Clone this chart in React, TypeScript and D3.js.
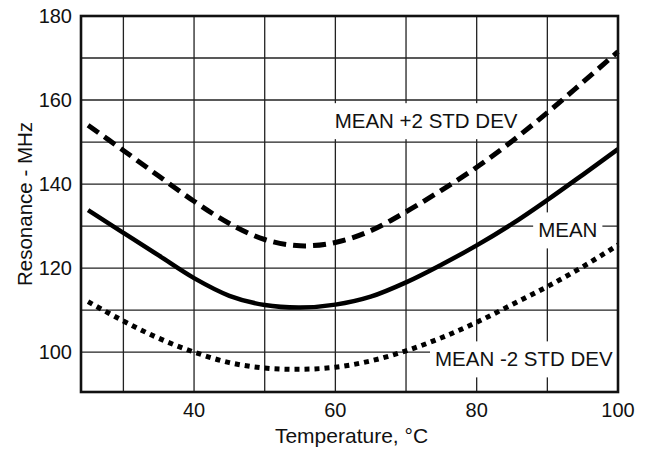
import React from "react"
import { scaleLinear, line, curveCatmullRom } from "d3"

// temperatures (°C) where curves were read
const temps = [25, 30, 35, 40, 45, 50, 55, 60, 65, 70, 75, 80, 85, 90, 95, 100]
const meanVals = [133.8, 128.4, 123, 117.6, 113.4, 111.2, 110.6, 111.3, 113.2, 116.6, 120.8, 125.4, 130.5, 136.2, 142.2, 148.3]
const plus2Vals = [154, 148, 141.9, 135.9, 130.6, 126.8, 125.3, 126.1, 128.9, 133.4, 138.5, 144, 150.2, 157, 164.2, 171.5]
const minus2Vals = [112, 107.4, 103.3, 100, 97.5, 96.2, 95.9, 96.4, 97.9, 100.3, 103.4, 107.1, 111.3, 115.6, 120.3, 125.5]

const xTicks = [40, 60, 80, 100]
const yTicks = [100, 120, 140, 160, 180]
const xGrid = [30, 40, 50, 60, 70, 80, 90]
const yGrid = [100, 110, 120, 130, 140, 150, 160, 170]

const labelTexts = ["MEAN +2 STD DEV", "MEAN", "MEAN -2 STD DEV"]
const labelX = [59.9, 88.7, 74.1]
const labelY = [153.3, 127.3, 96.6]

const FONT = "'Liberation Sans', Arial, Helvetica, sans-serif"

export default function App() {
  const margin = { top: 16, right: 37, bottom: 61, left: 81 }
  const W = 655
  const H = 453
  const width = W - margin.left - margin.right
  const height = H - margin.top - margin.bottom

  const x = scaleLinear().domain([24, 100]).range([0, width])
  const y = scaleLinear().domain([90.5, 180]).range([height, 0])

  const mk = (vals: number[]) =>
    line<number>()
      .x((d, i) => x(temps[i]))
      .y(d => y(d))
      .curve(curveCatmullRom.alpha(0.5))(vals) || ""

  // rough text width for Arial metrics, used for white boxes behind labels
  const charW: { [k: string]: number } = {
    M: 0.833, E: 0.667, A: 0.667, N: 0.722, " ": 0.278, "+": 0.584, "-": 0.333,
    "2": 0.556, S: 0.667, T: 0.611, D: 0.722, V: 0.667
  }
  const textWidth = (s: string, fs: number) =>
    s.split("").reduce((a, c) => a + (charW[c] || 0.6), 0) * fs

  return (
    <svg
      width={W}
      height={H}
      style={{ position: "absolute", left: 0, top: 0, background: "#fff" }}
      fontFamily={FONT}
    >
      <g transform={"translate(" + margin.left + "," + margin.top + ")"}>
        {xGrid.map(t => (
          <line key={"gx" + t} x1={x(t)} x2={x(t)} y1={0} y2={height} stroke="#222" strokeWidth={1.3} />
        ))}
        {yGrid.map(t => (
          <line key={"gy" + t} x1={0} x2={width} y1={y(t)} y2={y(t)} stroke="#222" strokeWidth={1.3} />
        ))}

        {labelTexts.map((s, i) => {
          const fs = 20.5
          const w = textWidth(s, fs)
          return (
            <rect
              key={"bg" + i}
              x={x(labelX[i]) - 5}
              y={y(labelY[i]) - 25}
              width={w + 10}
              height={36}
              fill="#fff"
            />
          )
        })}

        <path d={mk(plus2Vals)} fill="none" stroke="#000" strokeWidth={5} strokeDasharray="13,7" />
        <path d={mk(meanVals)} fill="none" stroke="#000" strokeWidth={4.5} />
        <path d={mk(minus2Vals)} fill="none" stroke="#000" strokeWidth={5} strokeDasharray="5,5" />

        {labelTexts.map((s, i) => (
          <text key={"lb" + i} x={x(labelX[i])} y={y(labelY[i])} fontSize={20.5} fill="#111">
            {s}
          </text>
        ))}

        <rect x={0} y={0} width={width} height={height} fill="none" stroke="#111" strokeWidth={2.6} />

        {yTicks.map(t => (
          <text key={"yt" + t} x={-9} y={y(t)} dy="0.36em" textAnchor="end" fontSize={20} fill="#111">
            {t}
          </text>
        ))}
        {xTicks.map(t => (
          <text key={"xt" + t} x={x(t)} y={height + 25} textAnchor="middle" fontSize={20} fill="#111">
            {t}
          </text>
        ))}

        <text x={width / 2 + 2} y={height + 51} textAnchor="middle" fontSize={21} fill="#111">
          Temperature, °C
        </text>
        <text
          transform={"translate(" + (32 - margin.left) + "," + height / 2 + ") rotate(-90)"}
          textAnchor="middle"
          fontSize={20.5}
          fill="#111"
        >
          Resonance - MHz
        </text>
      </g>
    </svg>
  )
}
